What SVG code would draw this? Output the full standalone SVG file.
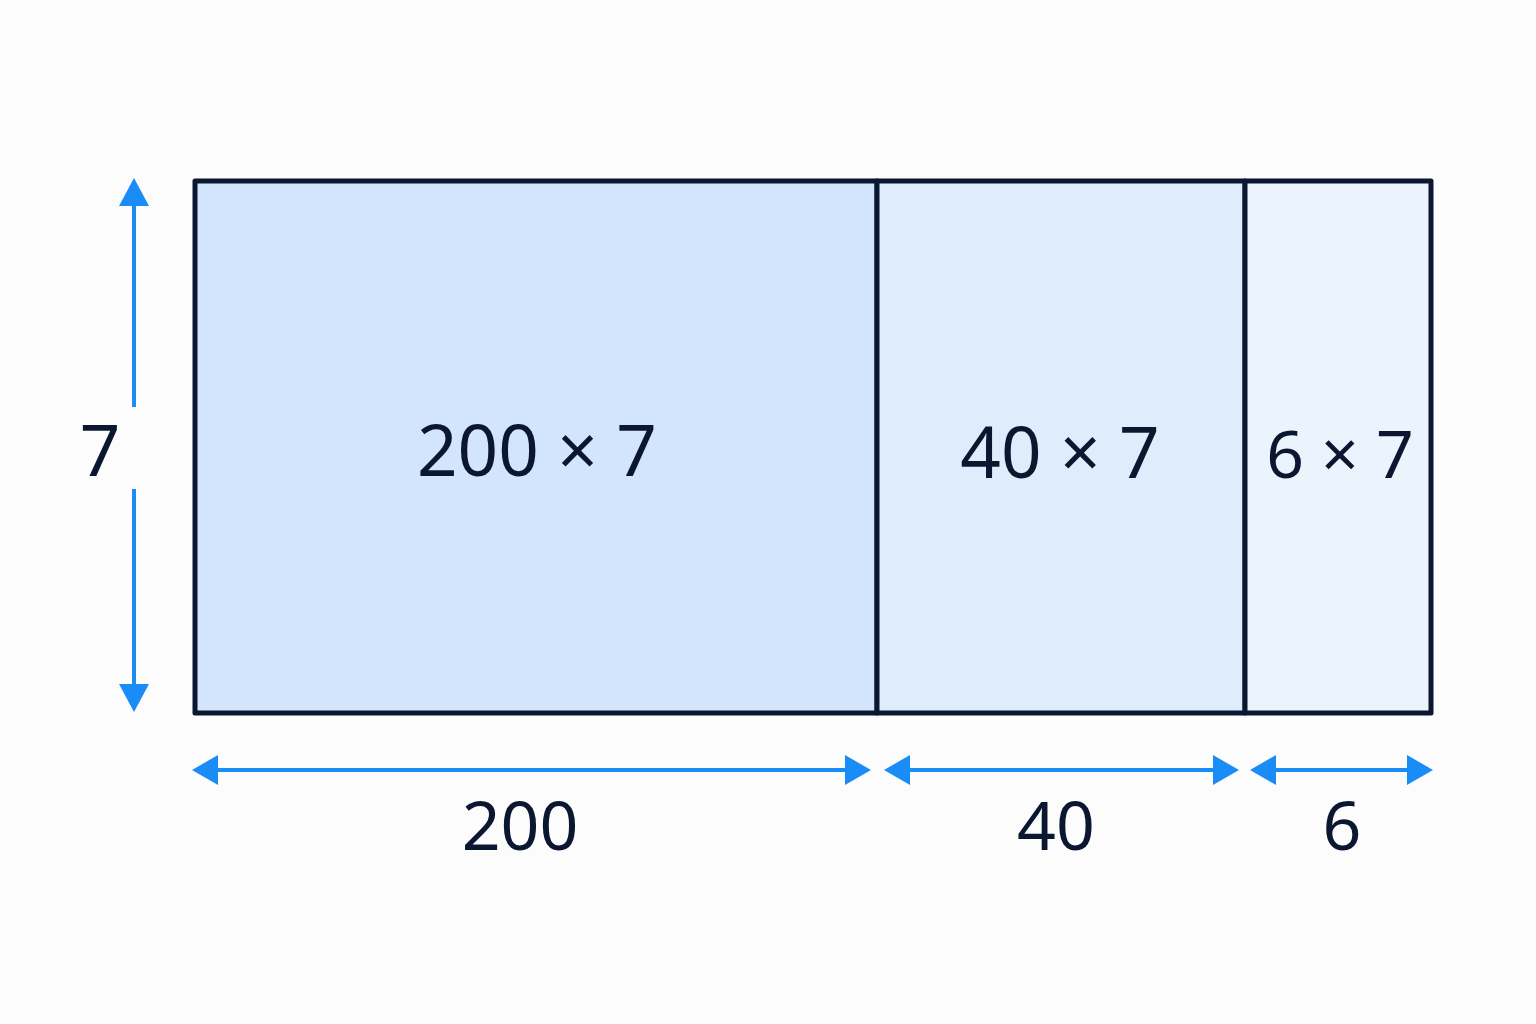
<svg xmlns="http://www.w3.org/2000/svg" width="1536" height="1024" viewBox="0 0 1536 1024">
<defs>
<style>
.cell{stroke:#0b1730;stroke-width:5;stroke-linejoin:round}
.dim{stroke:#1a8cf5;stroke-width:4;fill:none}
.head{fill:#1a8cf5}
.lbl{font-family:"Noto Sans","DejaVu Sans",sans-serif;fill:#0b1730;text-anchor:middle}
.big{font-size:71px}
.sm{font-size:68px}
</style>
</defs>
<rect width="1536" height="1024" fill="#fcfcfd"/>
<g id="cell-200x7">
<rect class="cell" x="195" y="181" width="682" height="532" fill="#d3e5fb"/>
<text class="lbl big" x="537" y="476">200 × 7</text>
</g>
<g id="cell-40x7">
<rect class="cell" x="877" y="181" width="368" height="532" fill="#deecfc"/>
<text class="lbl big" x="1060" y="478">40 × 7</text>
</g>
<g id="cell-6x7">
<rect class="cell" x="1245" y="181" width="186" height="532" fill="#ebf3fd"/>
<text class="lbl big" x="1340" y="478" style="font-size:66px">6 × 7</text>
</g>
<g id="connectors">
<line class="dim" x1="134" y1="200" x2="134" y2="407"/>
<line class="dim" x1="134" y1="489" x2="134" y2="690"/>
<polygon class="head" points="134,178 119,206 149,206"/>
<polygon class="head" points="134,712 119,684 149,684"/>
<line class="dim" x1="210" y1="770" x2="852" y2="770"/>
<polygon class="head" points="192,770 218,755 218,785"/>
<polygon class="head" points="871,770 845,755 845,785"/>
<line class="dim" x1="902" y1="770" x2="1220" y2="770"/>
<polygon class="head" points="884,770 910,755 910,785"/>
<polygon class="head" points="1239,770 1213,755 1213,785"/>
<line class="dim" x1="1268" y1="770" x2="1414" y2="770"/>
<polygon class="head" points="1250,770 1276,755 1276,785"/>
<polygon class="head" points="1433,770 1407,755 1407,785"/>
</g>
<g id="labels">
<text class="lbl big" x="100" y="476">7</text>
<text class="lbl sm" x="520" y="850">200</text>
<text class="lbl sm" x="1056" y="850">40</text>
<text class="lbl sm" x="1342" y="850">6</text>
</g>
</svg>
